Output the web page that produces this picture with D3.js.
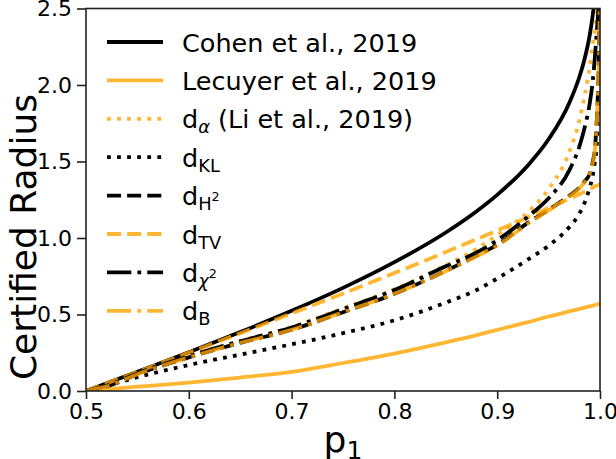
<!DOCTYPE html>
<html>
<head>
<meta charset="utf-8">
<script src="https://cdn.jsdelivr.net/npm/d3@7"></script>
<style>
body{margin:0;background:#fff}
svg{display:block;font-family:"DejaVu Sans",sans-serif}
</style>
</head>
<body>
<script>

// values
var p1 = [0.5, 0.52, 0.55, 0.6, 0.65, 0.7, 0.75, 0.8, 0.85, 0.88, 0.9, 0.93, 0.95, 0.97, 0.98, 0.985, 0.99, 0.993, 0.995, 0.997, 0.998, 0.999, 1.0];

var cohen   = [0, 0.05, 0.126, 0.253, 0.385, 0.524, 0.674, 0.842, 1.036, 1.175, 1.282, 1.476, 1.645, 1.881, 2.054, 2.17, 2.326, 2.46, 2.576, 2.75, 2.88, 3.09, null];
var lecuyer = [0, 0.012, 0.028, 0.055, 0.088, 0.125, 0.183, 0.245, 0.318, 0.365, 0.4, 0.45, 0.487, 0.52, 0.537, 0.545, 0.553, 0.558, 0.562, 0.566, 0.568, 0.57, 0.572];
var dAlpha  = [0, 0.035, 0.117, 0.23, 0.327, 0.418, 0.54, 0.665, 0.822, 0.93, 1.02, 1.17, 1.32, 1.56, 1.77, 1.93, 2.12, 2.27, 2.36, 2.47, 2.55, 2.7, null];
var dKL     = [0, 0.035, 0.09, 0.17, 0.238, 0.305, 0.378, 0.462, 0.578, 0.66, 0.735, 0.86, 0.95, 1.07, 1.16, 1.23, 1.33, 1.41, 1.5, 1.62, 1.8, 2.1, 2.7];
var dH2     = [0, 0.03, 0.11, 0.22, 0.315, 0.4, 0.515, 0.635, 0.785, 0.885, 0.955, 1.1, 1.185, 1.275, 1.33, 1.37, 1.42, 1.5, 1.58, 1.79, 1.95, 2.2, 2.7];
var dTV     = [0, 0.05, 0.125, 0.251, 0.378, 0.507, 0.637, 0.771, 0.908, 0.992, 1.049, 1.136, 1.196, 1.256, 1.287, 1.302, 1.318, 1.33, 1.337, 1.343, 1.346, 1.348, 1.349];
var dChi2   = [0, 0.034, 0.115, 0.228, 0.325, 0.415, 0.535, 0.66, 0.815, 0.905, 0.985, 1.14, 1.26, 1.44, 1.6, 1.72, 1.88, 2.03, 2.18, 2.36, 2.45, 2.6, null];
var dB      = [0, 0.03, 0.11, 0.22, 0.315, 0.4, 0.515, 0.635, 0.783, 0.88, 0.95, 1.095, 1.18, 1.27, 1.325, 1.365, 1.42, 1.49, 1.57, 1.78, 1.95, 2.2, 2.7];

var xTicks = [0.5, 0.6, 0.7, 0.8, 0.9, 1.0];
var yTicks = [0.0, 0.5, 1.0, 1.5, 2.0, 2.5];

// legend labels: [text, kind]
var labels = [
    [["Cohen et al., 2019", ""]],
    [["Lecuyer et al., 2019", ""]],
    [["d", ""], ["α", "subi"], [" (Li et al., 2019)", ""]],
    [["d", ""], ["KL", "sub"]],
    [["d", ""], ["H", "sub"], ["2", "sup"]],
    [["d", ""], ["TV", "sub"]],
    [["d", ""], ["χ", "subi"], ["2", "sup"]],
    [["d", ""], ["B", "sub"]]
];

var BLACK = "#000", ORANGE = "#ffa500";
var lw = 3.8;
var DOT = [lw, 1.65 * lw], DASH = [3.7 * lw, 1.6 * lw], DASHDOT = [6.4 * lw, 1.6 * lw, lw, 1.6 * lw];

var series = [
    {v: cohen,   c: BLACK,  dash: null},
    {v: lecuyer, c: ORANGE, dash: null},
    {v: dAlpha,  c: ORANGE, dash: DOT},
    {v: dKL,     c: BLACK,  dash: DOT},
    {v: dH2,     c: BLACK,  dash: DASH},
    {v: dTV,     c: ORANGE, dash: DASH},
    {v: dChi2,   c: BLACK,  dash: DASHDOT},
    {v: dB,      c: ORANGE, dash: DASHDOT}
];

var W = 616, H = 459;
var mL = 86, mR = 600, mT = 8.5, mB = 391;

var x = d3.scaleLinear().domain([0.5, 1]).range([mL, mR]);
var y = d3.scaleLinear().domain([0, 2.5]).range([mB, mT]);

var svg = d3.select("body").append("svg").attr("width", W).attr("height", H);

svg.append("clipPath").attr("id", "plot")
    .append("rect").attr("x", mL).attr("y", mT)
    .attr("width", mR - mL).attr("height", mB - mT);

var line = d3.line()
    .defined(function (d) { return d[1] != null; })
    .x(function (d) { return x(d[0]); })
    .y(function (d) { return y(d[1]); })
    .curve(d3.curveMonotoneX);

var plot = svg.append("g").attr("clip-path", "url(#plot)");

series.forEach(function (s) {
    plot.append("path")
        .datum(p1.map(function (p, i) { return [p, s.v[i]]; }))
        .attr("d", line)
        .attr("fill", "none")
        .attr("stroke", s.c)
        .attr("stroke-opacity", s.c == ORANGE ? 0.8 : 1)
        .attr("stroke-width", lw)
        .attr("stroke-dasharray", s.dash ? s.dash.join(",") : null);
});

// axes
var xAxis = svg.append("g").attr("transform", "translate(0," + mB + ")")
    .call(d3.axisBottom(x).tickValues(xTicks).tickFormat(d3.format(".1f")).tickSize(8).tickPadding(4).tickSizeOuter(0));
var yAxis = svg.append("g").attr("transform", "translate(" + mL + ",0)")
    .call(d3.axisLeft(y).tickValues(yTicks).tickFormat(d3.format(".1f")).tickSize(9).tickPadding(5).tickSizeOuter(0));

[xAxis, yAxis].forEach(function (a) {
    a.attr("font-size", null).attr("font-family", null);
    a.select(".domain").remove();
    a.selectAll(".tick line").attr("stroke", "#222").attr("stroke-width", 1.6);
    a.selectAll(".tick text").attr("fill", "#000").style("font-size", "22px");
});

svg.append("rect")
    .attr("x", mL).attr("y", mT)
    .attr("width", mR - mL).attr("height", mB - mT)
    .attr("fill", "none").attr("stroke", "#222").attr("stroke-width", 1.6);

// axis labels
var xl = svg.append("text").attr("x", (mL + mR) / 2).attr("y", 452)
    .attr("text-anchor", "middle").style("font-size", "36px");
xl.append("tspan").text("p");
xl.append("tspan").attr("dy", 7).style("font-size", "25px").text("1");

svg.append("text")
    .attr("transform", "translate(36,237) rotate(-90)")
    .attr("text-anchor", "middle").style("font-size", "36px")
    .text("Certified Radius");

// legend
var fs = 25.5, rowH = 38.4, row0 = 42;
var shifts = {"": 0, "sub": 5, "subi": 5, "sup": -4};
var sizes = {"": fs, "sub": fs * 0.7, "subi": fs * 0.7, "sup": fs * 0.5};

var legend = svg.append("g");
series.forEach(function (s, i) {
    var ry = row0 + i * rowH;
    legend.append("line")
        .attr("x1", 107).attr("x2", 163).attr("y1", ry).attr("y2", ry)
        .attr("stroke", s.c)
        .attr("stroke-opacity", s.c == ORANGE ? 0.8 : 1)
        .attr("stroke-width", lw)
        .attr("stroke-dasharray", s.dash ? s.dash.join(",") : null);

    var t = legend.append("text").attr("x", 182).attr("y", ry + 9.5).style("font-size", fs + "px");
    var cur = 0;
    labels[i].forEach(function (part) {
        var k = part[1];
        t.append("tspan")
            .attr("dy", shifts[k] - cur)
            .style("font-size", sizes[k] + "px")
            .style("font-style", k == "subi" ? "italic" : null)
            .text(part[0]);
        cur = shifts[k];
    });
});

</script>
</body>
</html>
